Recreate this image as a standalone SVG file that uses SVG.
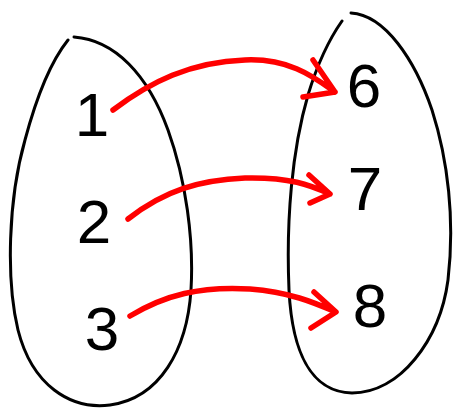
<svg xmlns="http://www.w3.org/2000/svg" width="454" height="410" viewBox="0 0 454 410">
<style>
.set{fill:none;stroke:#000;stroke-width:3;stroke-linecap:round;stroke-linejoin:round}
.num{font-family:"Liberation Sans","DejaVu Sans",sans-serif;font-size:62px;fill:#000;text-anchor:middle}
.arr{fill:none;stroke:#ff0000;stroke-width:5.5;stroke-linecap:round;stroke-linejoin:round}
</style>
<rect width="454" height="410" fill="#fff"/>
<g id="set-domain">
<path class="set" d="M74,37 C115,40 148,75 168,130 C186,180 194,240 191,290 C187,350 160,398 110,405 C70,410 32,385 18,330 C6,280 8,200 25,140 C37,95 52,60 68,40"/>
</g>
<g id="set-codomain">
<path class="set" d="M351,13 C385,15 415,60 432,110 C448,160 455,220 448,280 C440,340 400,393 352,393 C310,392 292,350 289,290 C286,220 292,150 308,95 C318,62 330,38 342,21"/>
</g>
<g id="n1"><text class="num" x="92" y="136">1</text></g>
<g id="n2"><text class="num" x="94" y="243">2</text></g>
<g id="n3"><text class="num" x="102" y="350">3</text></g>
<g id="n6"><text class="num" x="364" y="107">6</text></g>
<g id="n7"><text class="num" x="365" y="210">7</text></g>
<g id="n8"><text class="num" x="370" y="327">8</text></g>
<g id="connectors">
<path class="arr" d="M113,110 C150,82 190,62 245,60 C290,58 315,78 335,92 M313,60 L335,92 L303,97"/>
<path class="arr" d="M128,219 C165,190 200,180 245,178 C290,177 310,185 330,194 M309,175 L330,194 L310,203"/>
<path class="arr" d="M130,316 C165,295 200,286 250,289 C290,292 315,303 336,312 M314,292 L336,312 L311,328"/>
</g>
</svg>
